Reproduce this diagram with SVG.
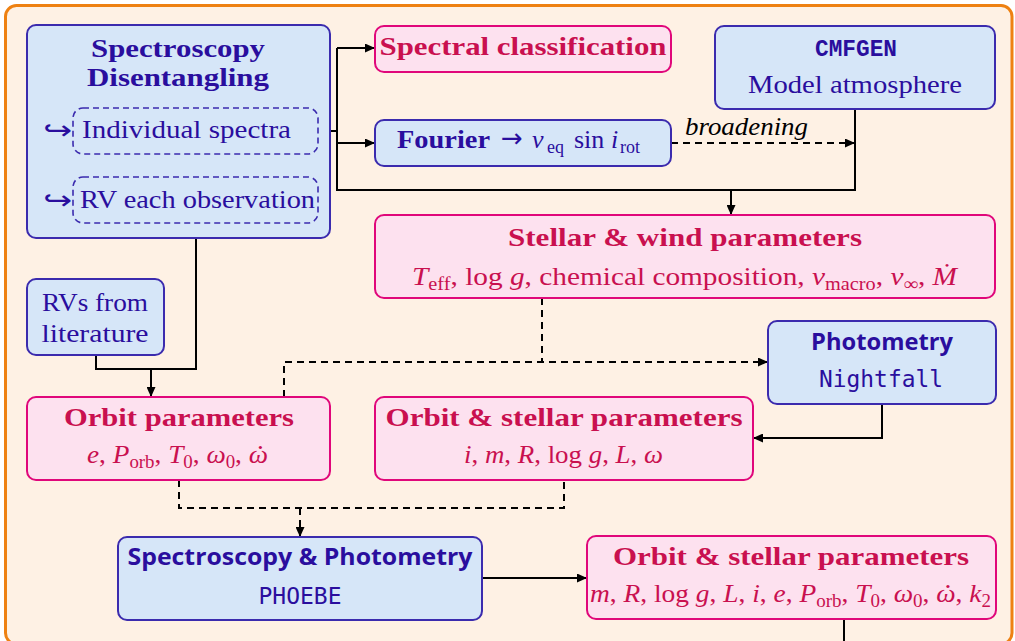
<svg xmlns="http://www.w3.org/2000/svg" width="1015" height="641" viewBox="0 0 1015 641">
  <style>
    .frame { fill: #FEF1E4; stroke: #EE8112; stroke-width: 3; }
    .bnode { fill: #D6E6F8; stroke: #3B2BAE; stroke-width: 2; }
    .pnode { fill: #FDE1EF; stroke: #E0077A; stroke-width: 2; }
    .dbox { fill: none; stroke: #3B2BAE; stroke-width: 1.6; stroke-dasharray: 6 4; }
    .bt { fill: #2A0E9E; }
    .pt { fill: #C9104F; }
    .serif { font-family: "Liberation Serif", "Times New Roman", serif; font-size: 26px; }
    .bf { font-weight: bold; }
    .it { font-style: italic; }
    .sub { font-size: 18px; }
    .sans { font-family: "Open Sans", "DejaVu Sans", sans-serif; font-weight: bold; font-size: 23px; }
    .mono { font-family: "DejaVu Sans Mono", "Liberation Mono", monospace; font-size: 23px; }
    .monob { font-family: "Liberation Mono", "DejaVu Sans Mono", monospace; font-weight: bold; font-size: 23px; }
    .sym { font-family: "DejaVu Sans", sans-serif; font-size: 26px; }
    .wire { fill: none; stroke: #000; stroke-width: 2; }
    .dash { stroke-dasharray: 7 5; }
  </style>
  <defs>
    <marker id="tip" markerUnits="userSpaceOnUse" markerWidth="11" markerHeight="9" refX="10" refY="4.5" orient="auto">
      <path d="M0,0 L10,4.5 L0,9 z" fill="#000"/>
    </marker>
  </defs>

  <!-- outer panel -->
  <rect class="frame" x="5.5" y="5.5" width="1006.5" height="638.5" rx="11"/>

  <!-- connectors -->
  <g id="connectors">
    <path class="wire" d="M318,131 H337 M337,48 V190 H855 V109"/>
    <path class="wire" d="M337,48 H375" marker-end="url(#tip)"/>
    <path class="wire" d="M337,143 H375" marker-end="url(#tip)"/>
    <path class="wire" d="M731,190 V215" marker-end="url(#tip)"/>
    <path class="wire dash" d="M671,143 H855" marker-end="url(#tip)"/>
    <text class="serif it" x="685" y="135" textLength="123" lengthAdjust="spacingAndGlyphs" fill="#000">broadening</text>
    <path class="wire" d="M196,223 V369 H96 V355"/>
    <path class="wire" d="M151,369 V397" marker-end="url(#tip)"/>
    <path class="wire dash" d="M542,298 V362"/>
    <path class="wire dash" d="M284,397 V362 H768" marker-end="url(#tip)"/>
    <path class="wire" d="M882,404 V438 H753" marker-end="url(#tip)"/>
    <path class="wire dash" d="M179,480 V508 H564 V480"/>
    <path class="wire dash" d="M300,508 V537" marker-end="url(#tip)"/>
    <path class="wire" d="M482,578 H587" marker-end="url(#tip)"/>
    <path class="wire" d="M844,619 V641"/>
  </g>

  <!-- spectral disentangling -->
  <g id="disentangling">
    <rect class="bnode" x="27" y="25" width="303" height="213" rx="9"/>
    <text class="serif bf bt" x="178" y="57" text-anchor="middle" textLength="174" lengthAdjust="spacingAndGlyphs">Spectroscopy</text>
    <text class="serif bf bt" x="178" y="86" text-anchor="middle" textLength="182" lengthAdjust="spacingAndGlyphs">Disentangling</text>
    <rect class="dbox" x="73" y="108" width="245" height="46" rx="10"/>
    <text class="sym bt" x="43" y="139" textLength="29" lengthAdjust="spacingAndGlyphs">↪</text>
    <text class="serif bt" x="82" y="138" textLength="209" lengthAdjust="spacingAndGlyphs">Individual spectra</text>
    <rect class="dbox" x="73" y="177" width="245" height="46" rx="10"/>
    <text class="sym bt" x="43" y="209" textLength="29" lengthAdjust="spacingAndGlyphs">↪</text>
    <text class="serif bt" x="80" y="208" textLength="235" lengthAdjust="spacingAndGlyphs">RV each observation</text>
  </g>

  <!-- spectral classification -->
  <g id="classification">
    <rect class="pnode" x="375" y="26" width="296" height="46" rx="9"/>
    <text class="serif bf pt" x="523" y="55" text-anchor="middle" textLength="287" lengthAdjust="spacingAndGlyphs">Spectral classification</text>
  </g>

  <!-- Fourier method -->
  <g id="fourier">
    <rect class="bnode" x="375" y="120" width="296" height="46" rx="9"/>
    <text class="serif bt">
      <tspan class="bf" x="397" y="148" textLength="93" lengthAdjust="spacingAndGlyphs">Fourier</tspan>
      <tspan class="sym" x="501" y="147">→</tspan>
      <tspan class="it" x="532" y="148">v</tspan>
      <tspan class="sub" x="547" y="153">eq</tspan>
      <tspan x="574" y="148">sin</tspan>
      <tspan class="it" x="611" y="148">i</tspan>
      <tspan class="sub" x="620" y="153">rot</tspan>
    </text>
  </g>

  <!-- model atmosphere code -->
  <g id="cmfgen">
    <rect class="bnode" x="715" y="26" width="280" height="83" rx="9"/>
    <text class="monob bt" x="856" y="56" text-anchor="middle" textLength="82" lengthAdjust="spacingAndGlyphs">CMFGEN</text>
    <text class="serif bt" x="855" y="93" text-anchor="middle" textLength="214" lengthAdjust="spacingAndGlyphs">Model atmosphere</text>
  </g>

  <!-- stellar and wind parameters -->
  <g id="stellar-wind">
    <rect class="pnode" x="375" y="215" width="620" height="83" rx="9"/>
    <text class="serif bf pt" x="685" y="246" text-anchor="middle" textLength="354" lengthAdjust="spacingAndGlyphs">Stellar &amp; wind parameters</text>
    <text class="serif pt" x="412" y="285" textLength="545" lengthAdjust="spacingAndGlyphs"><tspan class="it">T</tspan><tspan class="sub" dy="5">eff</tspan><tspan dy="-5">, log </tspan><tspan class="it">g</tspan>, chemical composition, <tspan class="it">v</tspan><tspan class="sub" dy="5">macro</tspan><tspan dy="-5">, </tspan><tspan class="it">v</tspan><tspan class="sub" dy="5">∞</tspan><tspan dy="-5">, </tspan><tspan class="it">Ṁ</tspan></text>
  </g>

  <!-- literature radial velocities -->
  <g id="rv-literature">
    <rect class="bnode" x="27" y="279" width="137" height="76" rx="9"/>
    <text class="serif bt" x="95" y="311" text-anchor="middle" textLength="106" lengthAdjust="spacingAndGlyphs">RVs from</text>
    <text class="serif bt" x="95" y="342" text-anchor="middle" textLength="107" lengthAdjust="spacingAndGlyphs">literature</text>
  </g>

  <!-- photometry -->
  <g id="photometry">
    <rect class="bnode" x="768" y="321" width="228" height="83" rx="9"/>
    <text class="sans bt" x="882" y="350" text-anchor="middle" textLength="142" lengthAdjust="spacingAndGlyphs">Photometry</text>
    <text class="mono bt" x="881" y="387" text-anchor="middle" textLength="124" lengthAdjust="spacingAndGlyphs">Nightfall</text>
  </g>

  <!-- orbit parameters (omega-dot: a raised period set back over the omega) -->
  <g id="orbit">
    <rect class="pnode" x="27" y="397" width="303" height="83" rx="9"/>
    <text class="serif bf pt" x="179" y="426" text-anchor="middle" textLength="230" lengthAdjust="spacingAndGlyphs">Orbit parameters</text>
    <text class="serif pt" x="87" y="463" textLength="181" lengthAdjust="spacingAndGlyphs"><tspan class="it">e</tspan>, <tspan class="it">P</tspan><tspan class="sub" dy="5">orb</tspan><tspan dy="-5">, </tspan><tspan class="it">T</tspan><tspan class="sub" dy="5">0</tspan><tspan dy="-5">, </tspan><tspan class="it">ω</tspan><tspan class="sub" dy="5">0</tspan><tspan dy="-5">, </tspan><tspan class="it">ω</tspan><tspan dx="-10.5" dy="-14">.</tspan></text>
  </g>

  <!-- orbit and stellar parameters from light curve -->
  <g id="orbit-stellar">
    <rect class="pnode" x="375" y="397" width="378" height="83" rx="9"/>
    <text class="serif bf pt" x="564" y="426" text-anchor="middle" textLength="357" lengthAdjust="spacingAndGlyphs">Orbit &amp; stellar parameters</text>
    <text class="serif pt" x="464" y="463" textLength="199" lengthAdjust="spacingAndGlyphs"><tspan class="it">i</tspan>, <tspan class="it">m</tspan>, <tspan class="it">R</tspan>, log <tspan class="it">g</tspan>, <tspan class="it">L</tspan>, <tspan class="it">ω</tspan></text>
  </g>

  <!-- combined modelling -->
  <g id="phoebe">
    <rect class="bnode" x="118" y="537" width="364" height="83" rx="9"/>
    <text class="sans bt" x="300" y="565" text-anchor="middle" textLength="345" lengthAdjust="spacingAndGlyphs">Spectroscopy &amp; Photometry</text>
    <text class="mono bt" x="300" y="604" text-anchor="middle" textLength="83" lengthAdjust="spacingAndGlyphs">PHOEBE</text>
  </g>

  <!-- final parameters -->
  <g id="final">
    <rect class="pnode" x="587" y="536" width="409" height="83" rx="9"/>
    <text class="serif bf pt" x="791" y="565" text-anchor="middle" textLength="356" lengthAdjust="spacingAndGlyphs">Orbit &amp; stellar parameters</text>
    <text class="serif pt" x="590" y="602" textLength="401" lengthAdjust="spacingAndGlyphs"><tspan class="it">m</tspan>, <tspan class="it">R</tspan>, log <tspan class="it">g</tspan>, <tspan class="it">L</tspan>, <tspan class="it">i</tspan>, <tspan class="it">e</tspan>, <tspan class="it">P</tspan><tspan class="sub" dy="5">orb</tspan><tspan dy="-5">, </tspan><tspan class="it">T</tspan><tspan class="sub" dy="5">0</tspan><tspan dy="-5">, </tspan><tspan class="it">ω</tspan><tspan class="sub" dy="5">0</tspan><tspan dy="-5">, </tspan><tspan class="it">ω</tspan><tspan dx="-10.5" dy="-14">.</tspan><tspan dx="4" dy="14">, </tspan><tspan class="it">k</tspan><tspan class="sub" dy="5">2</tspan></text>
  </g>
</svg>
